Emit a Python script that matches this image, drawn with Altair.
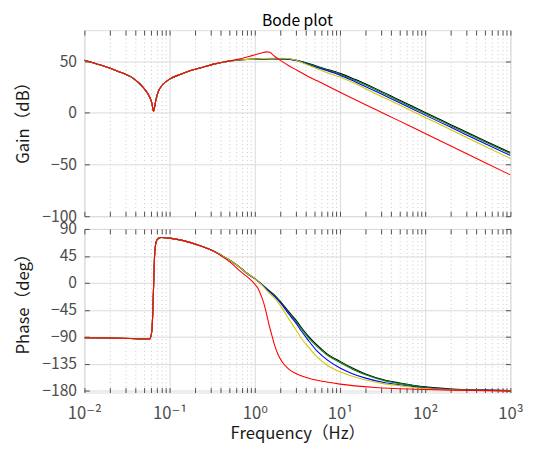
import altair as alt
import pandas as pd

# ---------------- data ----------------
# Gain (dB): part shared by every curve (low frequencies)
low_gain_freq = [0.01, 0.0155, 0.0242, 0.0375, 0.0489, 0.0583, 0.0621, 0.0637, 0.0649,
                 0.0661, 0.0685, 0.0761, 0.1, 0.141, 0.184, 0.25, 0.34, 0.45]
low_gain_db = [51.0, 46.2, 40.5, 33.3, 24.7, 15.3, 9.0, 4.0, 1.5,
               4.0, 11.0, 23.0, 32.6, 37.8, 41.4, 44.4, 47.4, 49.4]

# Gain above 0.5 Hz, per curve
mid_gain_freq = [0.53, 0.7, 0.9, 1.2, 1.6, 2.2, 2.95, 3.8, 4.98, 6.5, 10, 15, 26.6, 45.5,
                 100, 200, 500, 1000]
black_gain_db = [50.4, 51.3, 51.9, 52.2, 52.4, 52.2, 51.2, 49.0, 46.0, 43.0, 38.2, 32.4, 23.2, 14.0,
                 0.3, -11.4, -26.9, -38.4]
green_gain_db = [50.4, 51.3, 51.9, 52.2, 52.4, 52.2, 51.1, 48.8, 45.6, 42.4, 37.4, 31.5, 22.2, 13.0,
                 -0.7, -12.5, -28.0, -39.4]
blue_gain_db = [50.4, 51.3, 51.9, 52.2, 52.5, 52.3, 51.0, 48.3, 44.9, 41.6, 36.5, 30.2, 20.6, 11.4,
                -2.2, -14.0, -29.7, -41.3]
yellow_gain_db = [50.4, 51.3, 52.0, 52.5, 52.9, 52.8, 51.4, 47.8, 43.8, 40.0, 34.6, 28.4, 18.3, 9.2,
                  -4.4, -16.3, -32.2, -44.1]
red_gain_freq = [0.53, 0.7, 0.853, 1.01, 1.2, 1.38, 1.5, 1.65, 1.89, 2.05, 2.45, 3.17, 4.17, 5.4,
                 10, 26.6, 45.5, 100, 200, 500, 1000]
red_gain_db = [50.6, 52.5, 54.5, 56.2, 57.9, 59.0, 58.6, 55.8, 52.0, 50.3, 46.0, 41.0, 35.5, 31.0,
               20.0, 3.0, -6.3, -20.0, -32.0, -48.0, -60.0]

# Phase (deg): shared part
low_phase_freq = [0.01, 0.02, 0.035, 0.05, 0.0583, 0.0605, 0.0625, 0.064, 0.0652, 0.0665,
                  0.0685, 0.0708, 0.075, 0.0795, 0.1, 0.141, 0.22, 0.34]
low_phase_deg = [-91.5, -92.0, -92.8, -93.6, -93.5, -89.0, -72.0, -35.0, 5.0, 42.0,
                 64.0, 71.5, 74.8, 75.8, 74.7, 71.0, 62.7, 51.8]

mid_phase_freq = [0.45, 0.53, 0.68, 0.81, 1.0, 1.2, 1.45, 1.75, 2.05, 2.5, 3.0, 3.5, 4.2, 5.4,
                  7, 10, 14, 20, 35, 50, 100, 200, 500, 1000]
black_phase_deg = [42, 36, 25, 16, 7, -2, -12, -22, -33, -48, -61, -74, -88, -104,
                   -118, -131, -142, -152, -163, -167, -173.5, -177, -179, -179.8]
green_phase_deg = [42, 36, 25, 16, 7, -2, -12.5, -23, -34, -50, -63, -76.5, -90.5, -106.5,
                   -120, -133, -144, -153.5, -164, -168, -174.5, -177.5, -179.2, -179.8]
blue_phase_deg = [42, 36, 25, 16, 7, -2.5, -13.5, -24, -35, -52, -66, -80, -95, -114,
                  -128, -142, -151.5, -159, -167, -170, -175.5, -178, -179.4, -179.9]
yellow_phase_deg = [42, 36, 25, 16, 7, -3, -16, -27, -40, -60, -77, -92, -106, -124,
                    -137, -148.5, -156, -162, -169, -171.5, -176.5, -178.5, -179.5, -180]
red_phase_freq = [0.45, 0.53, 0.7, 0.85, 1.0, 1.1, 1.2, 1.3, 1.38, 1.47, 1.57, 1.7, 1.88, 2.1,
                  2.5, 3.0, 4.5, 7, 10, 26, 75, 200, 1000]
red_phase_deg = [40.5, 33, 17.5, 8, -2, -10, -23, -38, -53, -70, -85, -103, -120, -132,
                 -144, -151, -160, -165.5, -169, -174.6, -177.5, -179, -180.3]

series_names = ["black", "green", "blue", "yellow", "red"]
series_colors = ["#000000", "#008800", "#0000ff", "#d0c800", "#ff0000"]

gain_ticks = [-100, -50, 0, 50]
phase_ticks = [-180, -135, -90, -45, 0, 45, 90]
decade_labels = ["10⁻²", "10⁻¹", "10⁰", "10¹", "10²", "10³"]

# ---------------- tables ----------------
gain_parts = {
    "black": (mid_gain_freq, black_gain_db),
    "green": (mid_gain_freq, green_gain_db),
    "blue": (mid_gain_freq, blue_gain_db),
    "yellow": (mid_gain_freq, yellow_gain_db),
    "red": (red_gain_freq, red_gain_db),
}
phase_parts = {
    "black": (mid_phase_freq, black_phase_deg),
    "green": (mid_phase_freq, green_phase_deg),
    "blue": (mid_phase_freq, blue_phase_deg),
    "yellow": (mid_phase_freq, yellow_phase_deg),
    "red": (red_phase_freq, red_phase_deg),
}


def make_df(low_f, low_v, parts):
    frames = []
    for name, (f, v) in parts.items():
        frames.append(pd.DataFrame({"f": low_f + list(f), "v": low_v + list(v), "s": name}))
    return pd.concat(frames, ignore_index=True)


gain_df = make_df(low_gain_freq, low_gain_db, gain_parts)
phase_df = make_df(low_phase_freq, low_phase_deg, phase_parts)

# ---------------- styling ----------------
FONT = "Noto Sans CJK JP, DejaVu Sans"
TICK_COLOR = "#4d4d4d"
x_tick_values = []
for d in [0.01, 0.1, 1, 10, 100]:
    for m in range(1, 10):
        x_tick_values.append(round(d * m, 6))
x_tick_values.append(1000)

IS_DEC = "abs(log(datum.value)/LN10 - round(log(datum.value)/LN10)) < 0.001"
label_list = "[" + ",".join("'%s'" % s for s in decade_labels) + "]"
LABEL_EXPR = f"{IS_DEC} ? {label_list}[round(log(datum.value)/LN10) + 2] : ''"

x_scale = alt.Scale(type="log", domain=[0.01, 1000], nice=False)


def x_axis_bottom(show_labels, title):
    kw = dict(
        values=x_tick_values, orient="bottom", offset=-5, tickSize=5, domain=False,
        tickColor=TICK_COLOR, tickWidth=1, grid=True,
        gridColor={"condition": {"test": IS_DEC, "value": "#dadada"}, "value": "#c8c8c8"},
        gridDash={"condition": {"test": IS_DEC, "value": []}, "value": [1, 3]},
        gridWidth=1, labels=show_labels, labelOverlap=False, labelFlush=False,
    )
    if show_labels:
        kw.update(labelExpr=LABEL_EXPR, labelFont=FONT, labelFontSize=17,
                  labelColor=TICK_COLOR, labelPadding=14)
    if title:
        kw.update(title=title, titleFont=FONT, titleFontSize=17, titleFontWeight="normal",
                  titleColor="#1a1a1a", titlePadding=4)
    else:
        kw.update(title=None)
    return alt.Axis(**kw)


def y_axis_left(values, title, title_y):
    return alt.Axis(values=values, orient="left", offset=-5, tickSize=5, domain=False,
                    tickColor=TICK_COLOR, grid=True, gridColor="#dadada", gridWidth=1,
                    labelFont=FONT, labelFontSize=16, labelColor=TICK_COLOR, labelPadding=8,
                    title=title, titleFont=FONT, titleFontSize=17, titleFontWeight="normal",
                    titleColor="#1a1a1a", titlePadding=10, titleY=title_y)


def panel(df, y_domain, y_ticks, y_title, title_y, show_x_labels, x_title, height, title=None):
    y_scale = alt.Scale(domain=y_domain, nice=False, zero=False)
    xa = x_axis_bottom(show_x_labels, x_title)
    ya = y_axis_left(y_ticks, y_title, title_y)
    lines = []
    for name, col in zip(series_names, series_colors):
        lines.append(
            alt.Chart(df).transform_filter(alt.datum.s == name)
            .mark_line(color=col, strokeWidth=1.1, clip=True, interpolate="monotone")
            .encode(x=alt.X("f:Q", scale=x_scale, axis=xa),
                    y=alt.Y("v:Q", scale=y_scale, axis=ya))
        )
    dummy = (
        alt.Chart(df).transform_filter(alt.datum.s == "black")
        .mark_line(strokeOpacity=0)
        .encode(
            x=alt.X("f:Q", scale=alt.Scale(type="log", domain=[0.01, 1000], nice=False),
                    axis=alt.Axis(values=x_tick_values, orient="top", offset=-5, tickSize=5,
                                  domain=False, grid=False, labels=False, title=None,
                                  tickColor=TICK_COLOR)),
            y=alt.Y("v:Q", scale=alt.Scale(domain=y_domain, nice=False, zero=False),
                    axis=alt.Axis(values=y_ticks, orient="right", offset=-5, tickSize=5,
                                  domain=False, grid=False, labels=False, title=None,
                                  tickColor=TICK_COLOR)),
        )
    )
    props = dict(width=435, height=height)
    if title:
        props["title"] = alt.TitleParams(title, font=FONT, fontSize=16, fontWeight="normal",
                                         color="#000000", anchor="middle", frame="group",
                                         offset=0.5)
    return alt.layer(alt.layer(*lines), dummy).resolve_scale(
        x="independent", y="independent").properties(**props)


top = panel(gain_df, [-100, 80], gain_ticks, "Gain（dB）", 90, False, None, 190, "Bode plot")
bottom = panel(phase_df, [-183, 90], phase_ticks, "Phase（deg）", 72, True, "Frequency（Hz）", 167)

chart = (
    alt.vconcat(top, bottom, spacing=13, bounds="flush")
    .properties(padding={"left": 5, "top": 0, "right": 5, "bottom": 0})
    .configure_view(stroke="#4d4d4d", strokeWidth=1)
    .configure(background="white")
)

chart.save("out.html", embed_options={"renderer": "svg", "actions": False})
